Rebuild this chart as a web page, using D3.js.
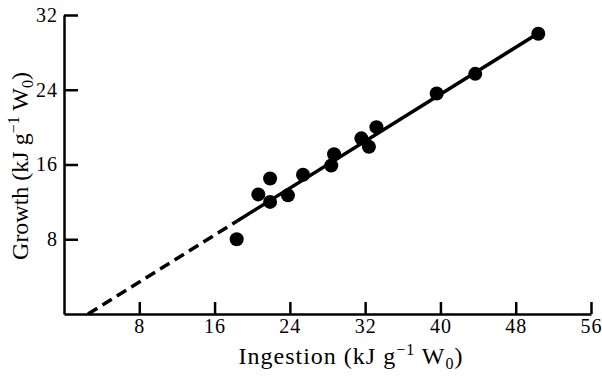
<!DOCTYPE html>
<html>
<head>
<meta charset="utf-8">
<script src="https://cdn.jsdelivr.net/npm/d3@7"></script>
<style>
  body { margin: 0; background: #fff; }
  svg { display: block; }
  .axis text { font-family: "Liberation Serif", serif; font-size: 20px; letter-spacing: 1px; fill: #000; }
  .axis path, .axis line { stroke: #000; stroke-width: 2.5px; }
  .axis-title { font-family: "Liberation Serif", serif; font-size: 24px; fill: #000; }
</style>
</head>
<body>
<svg id="chart"></svg>
<script>
// svg size and plot margins
const width = 602;
const height = 377;

const margin = {
  top: 15,
  bottom: 63,
  left: 64,
  right: 11
};

// values
const ingestion = [18.35, 20.65, 21.9, 21.9, 23.8, 25.4, 28.4, 28.7, 31.6, 32.4, 33.2, 39.6, 43.7, 50.4];
const growth = [8.0, 12.8, 14.5, 12.0, 12.7, 14.9, 15.9, 17.1, 18.8, 17.9, 20.0, 23.6, 25.7, 30.0];

const xTicks = [8, 16, 24, 32, 40, 48, 56];
const yTicks = [8, 16, 24, 32];

// fitted line: dashed extrapolation then solid over the data
const dashedLine = [[2.55, 0], [18.4, 9.95]];
const solidLine = [[18.4, 9.95], [50.4, 30.05]];

const svg = d3.select('#chart')
  .attr('width', width)
  .attr('height', height);

const scales = {
  x: d3.scaleLinear().domain([0, 56]).range([margin.left, width - margin.right]),
  y: d3.scaleLinear().domain([0, 32]).range([height - margin.bottom, margin.top])
};

drawAxis();
drawLines();
drawPoints();
drawTitles();

function drawAxis() {
  const xAxis = d3.axisBottom(scales.x)
    .tickValues(xTicks)
    .tickSizeInner(-12)
    .tickSizeOuter(0)
    .tickPadding(5);

  const yAxis = d3.axisLeft(scales.y)
    .tickValues(yTicks)
    .tickSizeInner(-14)
    .tickSizeOuter(0)
    .tickPadding(6);

  svg.append('g')
    .attr('class', 'axis')
    .attr('transform', translate(0, height - margin.bottom))
    .call(xAxis);

  svg.append('g')
    .attr('class', 'axis')
    .attr('transform', translate(margin.left, 0))
    .call(yAxis);
}

function drawLines() {
  const line = d3.line()
    .x(d => scales.x(d[0]))
    .y(d => scales.y(d[1]));

  svg.append('path')
    .attr('d', line(dashedLine))
    .attr('fill', 'none')
    .attr('stroke', '#000')
    .attr('stroke-width', 3.5)
    .attr('stroke-dasharray', '11,6');

  svg.append('path')
    .attr('d', line(solidLine))
    .attr('fill', 'none')
    .attr('stroke', '#000')
    .attr('stroke-width', 3.5);
}

function drawPoints() {
  svg.append('g')
    .selectAll('circle')
    .data(ingestion)
    .enter()
    .append('circle')
    .attr('cx', d => scales.x(d))
    .attr('cy', (d, i) => scales.y(growth[i]))
    .attr('r', 7)
    .attr('fill', '#000');
}

function drawTitles() {
  const xTitle = svg.append('text')
    .attr('class', 'axis-title')
    .attr('x', 351)
    .attr('y', 364)
    .attr('letter-spacing', 1)
    .attr('text-anchor', 'middle');
  unitText(xTitle, 'Ingestion (kJ g');

  const yGroup = svg.append('g')
    .attr('transform', translate(28, 166));
  const yTitle = yGroup.append('text')
    .attr('class', 'axis-title')
    .attr('text-anchor', 'middle')
    .attr('transform', 'rotate(-90)');
  unitText(yTitle, 'Growth (kJ g');
}

// label with superscript -1 and subscript 0
function unitText(text, start) {
  text.append('tspan').text(start);
  text.append('tspan').attr('dy', -9).attr('font-size', 16).text('\u22121');
  text.append('tspan').attr('dy', 9).text(' W');
  text.append('tspan').attr('dy', 5).attr('font-size', 16).text('0');
  text.append('tspan').attr('dy', -5).text(')');
}

function translate(x, y) {
  return 'translate(' + String(x) + ',' + String(y) + ')';
}
</script>
</body>
</html>
